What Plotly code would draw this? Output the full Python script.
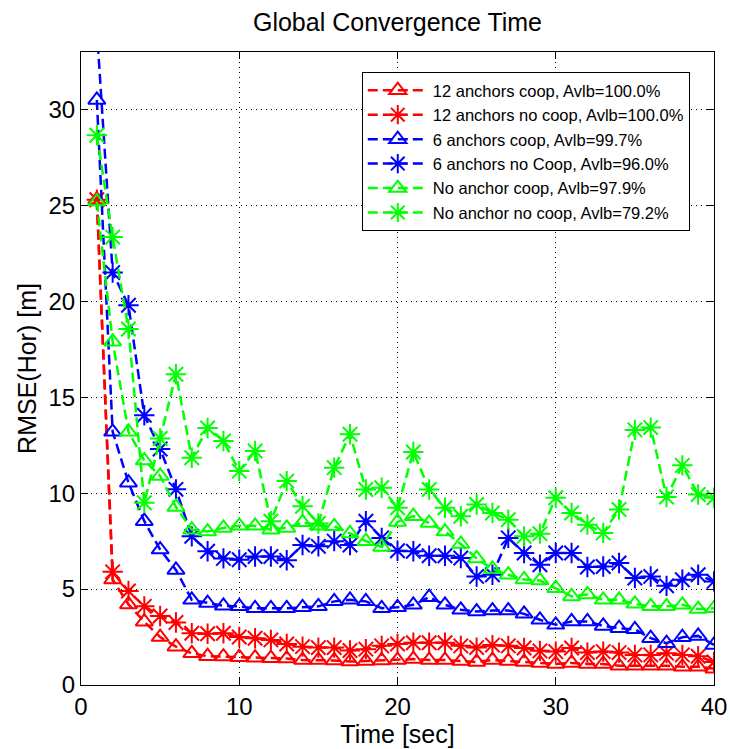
import plotly.graph_objects as go

# Time axis (seconds)
time_sec = list(range(1, 41))

# RMSE (horizontal) in metres for each configuration
rmse_12_coop = [25.3, 5.5, 4.2, 3.3, 2.5, 2.0, 1.65, 1.5, 1.48, 1.45, 1.42, 1.4, 1.38, 1.3, 1.3, 1.28, 1.22, 1.25, 1.28, 1.3,
                1.35, 1.3, 1.3, 1.25, 1.2, 1.3, 1.25, 1.2, 1.15, 1.1, 1.15, 1.1, 1.1, 1.0, 1.0, 1.0, 1.0, 0.95, 0.95, 0.85]
rmse_12_nocoop = [25.3, 5.9, 4.9, 4.1, 3.6, 3.26, 2.7, 2.67, 2.7, 2.5, 2.44, 2.35, 2.14, 2.0, 1.95, 1.95, 1.8, 1.87, 2.04, 2.14,
                  2.2, 2.2, 2.2, 2.04, 1.95, 2.08, 2.04, 1.93, 1.78, 1.74, 1.93, 1.69, 1.74, 1.69, 1.57, 1.57, 1.66, 1.57, 1.5, 1.2]
rmse_6_coop = [30.5, 13.2, 10.55, 8.54, 7.06, 6.0, 4.44, 4.27, 4.13, 4.1, 4.0, 4.0, 4.0, 4.05, 4.1, 4.36, 4.44, 4.36, 4.0, 4.05,
               4.18, 4.58, 4.18, 3.92, 3.83, 3.88, 3.88, 3.71, 3.4, 3.14, 3.31, 3.31, 3.08, 2.96, 2.9, 2.44, 2.18, 2.49, 2.56, 2.09]
rmse_6_nocoop = [34.2, 21.5, 19.8, 14.06, 12.3, 10.2, 7.75, 6.97, 6.6, 6.53, 6.7, 6.7, 6.5, 7.3, 7.23, 7.5, 7.3, 8.54, 7.67, 7.0,
                 6.97, 6.74, 6.74, 6.62, 5.66, 5.75, 7.67, 6.88, 6.27, 6.88, 6.88, 6.15, 6.18, 6.36, 5.58, 5.66, 5.17, 5.49, 5.75, 5.4]
rmse_0_coop = [25.2, 17.9, 13.2, 11.7, 10.9, 9.28, 8.1, 8.0, 8.19, 8.3, 8.3, 8.1, 8.19, 8.48, 8.3, 8.27, 7.9, 7.5, 7.2, 8.5,
               8.8, 8.45, 8.0, 7.35, 6.6, 6.05, 5.75, 5.5, 5.45, 5.05, 4.62, 4.72, 4.44, 4.44, 4.23, 4.1, 4.1, 4.18, 3.96, 4.0]
rmse_0_nocoop = [28.66, 23.35, 18.56, 9.5, 12.85, 16.2, 11.85, 13.4, 12.72, 11.15, 12.2, 8.54, 10.63, 9.32, 8.42, 11.33, 13.07, 10.19, 10.28, 9.24,
                 12.15, 10.19, 9.24, 8.8, 9.41, 8.97, 8.62, 7.75, 7.89, 9.76, 8.97, 8.36, 7.93, 9.15, 13.3, 13.42, 9.8, 11.45, 9.93, 9.76]

series_names = [
    "12 anchors coop, Avlb=100.0%",
    "12 anchors no coop, Avlb=100.0%",
    "6 anchors coop, Avlb=99.7%",
    "6 anchors no Coop, Avlb=96.0%",
    "No anchor coop, Avlb=97.9%",
    "No anchor no coop, Avlb=79.2%",
]
series_values = [rmse_12_coop, rmse_12_nocoop, rmse_6_coop, rmse_6_nocoop, rmse_0_coop, rmse_0_nocoop]
series_colors = ["#FF0000", "#FF0000", "#0000FF", "#0000FF", "#00FF00", "#00FF00"]
series_symbols = ["triangle-up-open", "asterisk-open", "triangle-up-open", "asterisk-open", "triangle-up-open", "asterisk-open"]

x_ticks = [0, 10, 20, 30, 40]
y_ticks = [0, 5, 10, 15, 20, 25, 30]

FONT = "Liberation Sans, Arial, sans-serif"

fig = go.Figure()
for i, (name, vals, col, sym) in enumerate(zip(series_names, series_values, series_colors, series_symbols)):
    fig.add_trace(go.Scatter(
        x=time_sec, y=vals, name=name, mode="lines+markers",
        legendgroup=f"g{i}",
        line=dict(color=col, width=2.5, dash="10px,5px"),
        marker=dict(symbol=sym, size=15 if "triangle" in sym else 17, color=col,
                    line=dict(color=col, width=2)),
    ))

axis_common = dict(
    showline=True, linecolor="black", linewidth=1, mirror="ticks",
    ticks="inside", ticklen=7, tickwidth=1, tickcolor="black",
    showgrid=True, gridcolor="black", gridwidth=1, griddash="1px,4px",
    zeroline=False, automargin=False,
    tickfont=dict(family=FONT, size=24, color="black"),
)

fig.update_layout(
    width=730, height=749,
    margin=dict(l=81, r=15.5, t=52, b=64, autoexpand=False),
    paper_bgcolor="white", plot_bgcolor="white",
    font=dict(family=FONT, color="black"),
    title=dict(text="Global Convergence Time", x=397.5 / 730, xanchor="center",
               y=1 - 22 / 749, yanchor="middle", yref="container",
               font=dict(family=FONT, size=25, color="black")),
    xaxis=dict(range=[0, 40], tickvals=x_ticks,
               title=dict(text="Time [sec]", font=dict(family=FONT, size=25, color="black"), standoff=2),
               **axis_common),
    yaxis=dict(range=[0, 33], tickvals=y_ticks,
               title=dict(text="RMSE(Hor) [m]", font=dict(family=FONT, size=25, color="black"), standoff=4),
               **axis_common),
    legend=dict(x=(362 - 81) / (714.5 - 81), y=1 - (72 - 52) / (685 - 52),
                xanchor="left", yanchor="top",
                bgcolor="white", bordercolor="black", borderwidth=1,
                font=dict(family=FONT, size=16.5, color="black"),
                traceorder="grouped", tracegroupgap=0, itemwidth=60),
    showlegend=True,
)

fig.write_html("out.html")
